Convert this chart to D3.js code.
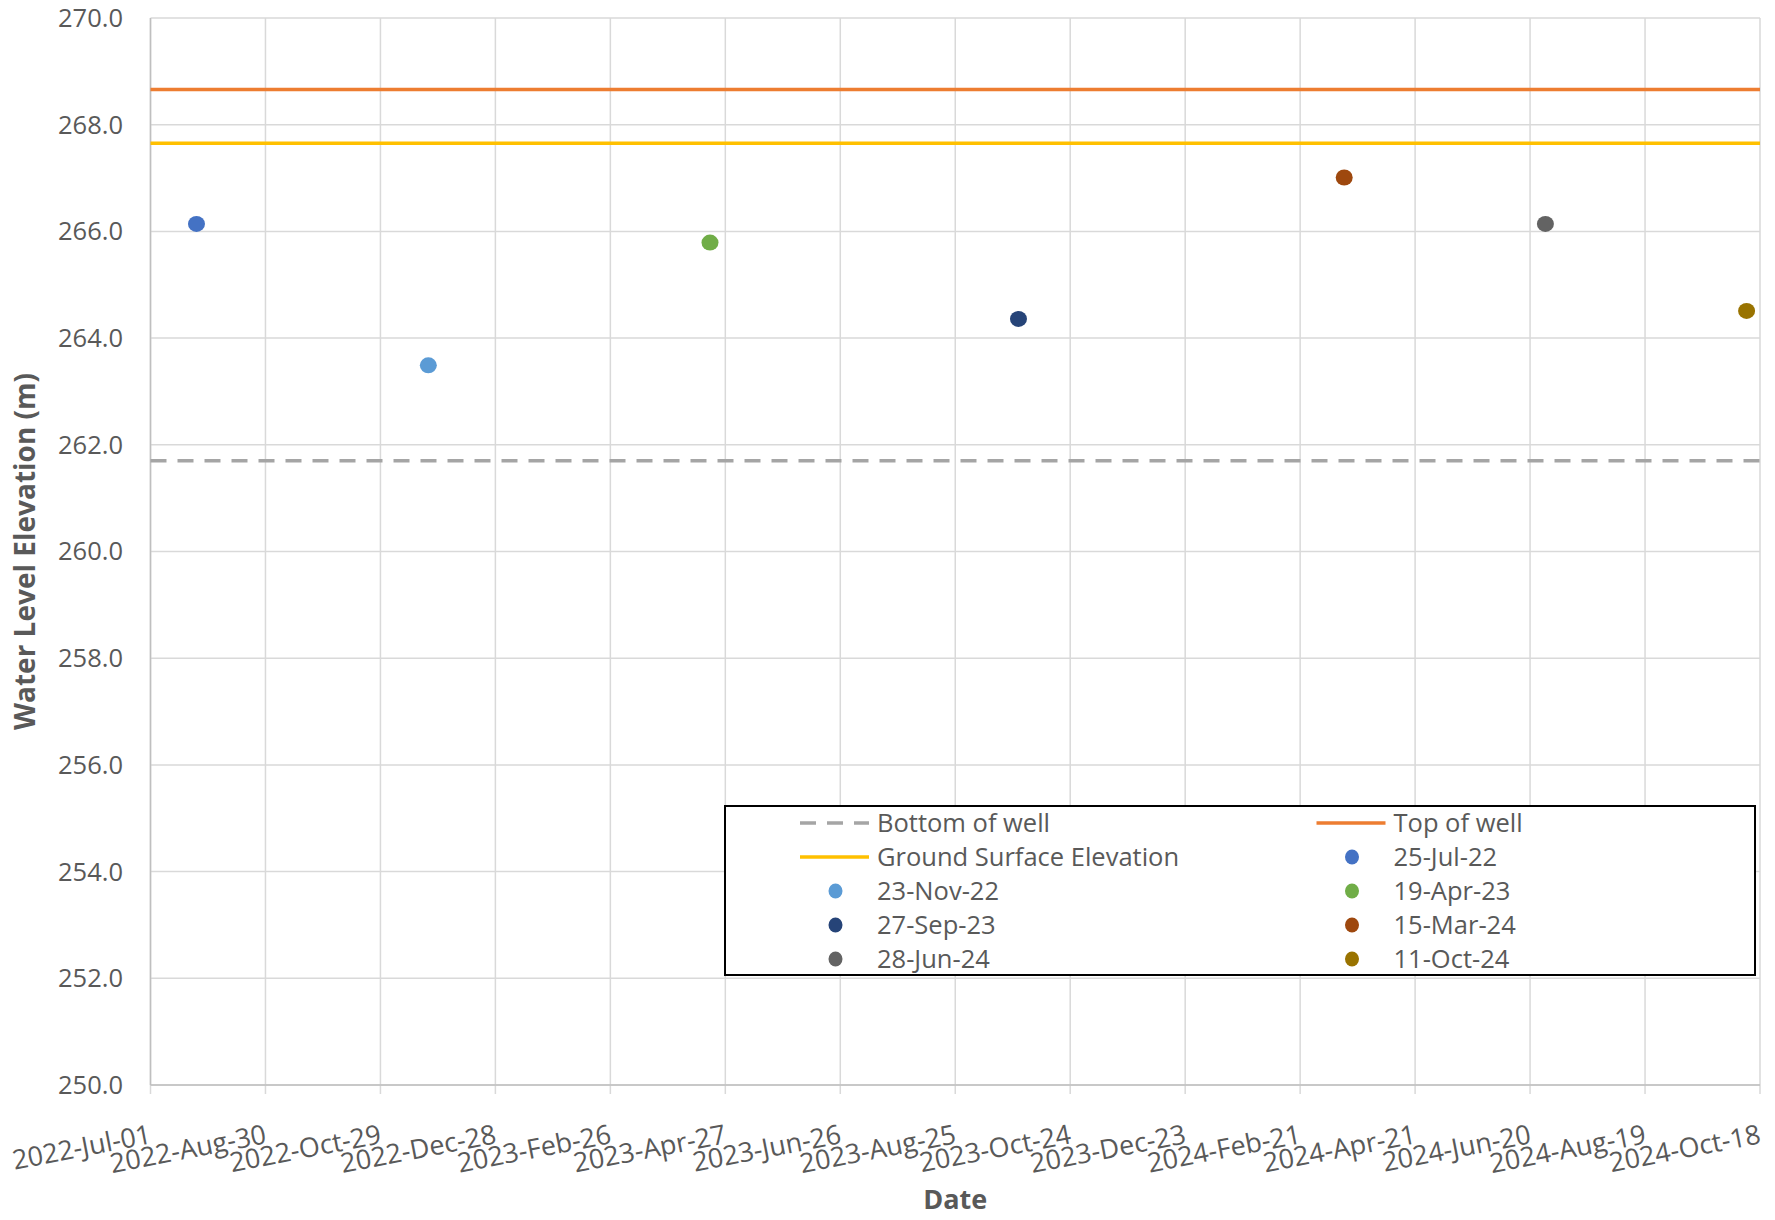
<!DOCTYPE html>
<html>
<head>
<meta charset="utf-8">
<script src="https://cdn.jsdelivr.net/npm/d3@7"></script>
<style>
  html, body { margin: 0; padding: 0; background: #fff; }
  svg { display: block; }
  text { font-family: "Open Sans", "Noto Sans", sans-serif; fill: #595959; }
</style>
</head>
<body>
<div id="chart"></div>
<script>
// ---- data ----
const sampleDates  = ["2022-07-25", "2022-11-23", "2023-04-19", "2023-09-27", "2024-03-15", "2024-06-28", "2024-10-11"];
const sampleLabels = ["25-Jul-22", "23-Nov-22", "19-Apr-23", "27-Sep-23", "15-Mar-24", "28-Jun-24", "11-Oct-24"];
const waterLevels  = [266.14, 263.49, 265.79, 264.36, 267.01, 266.14, 264.51];
const sampleColors = ["#4472C4", "#5B9BD5", "#70AD47", "#264478", "#9E480E", "#636363", "#997300"];

const topOfWell     = 268.66;
const groundSurface = 267.65;
const bottomOfWell  = 261.70;

const xStart = "2022-07-01";
const xEnd   = "2024-10-18";
const xTickStepDays = 60;
const yTicks = [250, 252, 254, 256, 258, 260, 262, 264, 266, 268, 270];

// ---- layout ----
const W = 1775, H = 1220;
const m = { left: 150.5, right: W - 1760, top: 18, bottom: H - 1085 };

const parse = d3.utcParse("%Y-%m-%d");
const fmt = d3.utcFormat("%Y-%b-%d");

const x = d3.scaleUtc().domain([parse(xStart), parse(xEnd)]).range([m.left, W - m.right]);
const y = d3.scaleLinear().domain([250, 270]).range([H - m.bottom, m.top]);

const xTicks = d3.utcDay.every(1).range(parse(xStart), d3.utcDay.offset(parse(xEnd), 1))
  .filter((d, i) => i % xTickStepDays === 0);

const svg = d3.select("#chart").append("svg").attr("width", W).attr("height", H);

const gridColor = "#D9D9D9";

// horizontal gridlines
svg.append("g").selectAll("line").data(yTicks).join("line")
  .attr("x1", m.left).attr("x2", W - m.right)
  .attr("y1", d => y(d)).attr("y2", d => y(d))
  .attr("stroke", gridColor).attr("stroke-width", 1.5);

// vertical gridlines + tick marks
svg.append("g").selectAll("line").data(xTicks).join("line")
  .attr("x1", d => x(d)).attr("x2", d => x(d))
  .attr("y1", m.top).attr("y2", H - m.bottom + 9)
  .attr("stroke", gridColor).attr("stroke-width", 1.5);

// axis lines
svg.append("line").attr("x1", m.left).attr("x2", m.left).attr("y1", m.top).attr("y2", H - m.bottom)
  .attr("stroke", "#BFBFBF").attr("stroke-width", 1.5);
svg.append("line").attr("x1", m.left).attr("x2", W - m.right).attr("y1", H - m.bottom).attr("y2", H - m.bottom)
  .attr("stroke", "#BFBFBF").attr("stroke-width", 1.5);

// y tick labels
svg.append("g").selectAll("text").data(yTicks).join("text")
  .attr("x", 123).attr("y", d => y(d)).attr("dy", "0.35em")
  .attr("text-anchor", "end").attr("font-size", 25.5)
  .text(d => d.toFixed(1));

// x tick labels (rotated)
svg.append("g").selectAll("text").data(xTicks).join("text")
  .attr("transform", d => `translate(${x(d) + 2},${H - m.bottom + 58}) rotate(-11)`)
  .attr("text-anchor", "end").attr("font-size", 27)
  .text(d => fmt(d));

// axis titles
svg.append("text")
  .attr("transform", `translate(35,${(m.top + H - m.bottom) / 2}) rotate(-90)`)
  .attr("text-anchor", "middle").attr("font-size", 28).attr("font-weight", "bold")
  .text("Water Level Elevation (m)");
svg.append("text")
  .attr("x", (m.left + W - m.right) / 2).attr("y", 1209)
  .attr("text-anchor", "middle").attr("font-size", 27).attr("font-weight", "bold")
  .text("Date");

// reference lines
const xr = x.range();
const refLines = [
  { name: "Bottom of well", value: bottomOfWell, color: "#A5A5A5", dash: "16,11", w: 3.5 },
  { name: "Top of well", value: topOfWell, color: "#ED7D31", dash: null, w: 3.5 },
  { name: "Ground Surface Elevation", value: groundSurface, color: "#FFC000", dash: null, w: 3.5 }
];
svg.append("g").selectAll("line").data(refLines).join("line")
  .attr("x1", xr[0]).attr("x2", xr[1])
  .attr("y1", d => y(d.value)).attr("y2", d => y(d.value))
  .attr("stroke", d => d.color).attr("stroke-width", d => d.w)
  .attr("stroke-dasharray", d => d.dash);

// points
const pts = sampleDates.map((d, i) => ({ date: parse(d), v: waterLevels[i], c: sampleColors[i], label: sampleLabels[i] }));
svg.append("g").selectAll("ellipse").data(pts).join("ellipse")
  .attr("cx", d => x(d.date)).attr("cy", d => y(d.v))
  .attr("rx", 8.5).attr("ry", 8)
  .attr("fill", d => d.c);

// legend
const lg = svg.append("g");
lg.append("rect").attr("x", 725).attr("y", 806).attr("width", 1030).attr("height", 169)
  .attr("fill", "#fff").attr("stroke", "#000").attr("stroke-width", 2);

const legendItems = [
  { type: "line", ...refLines[0] },
  { type: "line", ...refLines[1] },
  { type: "line", ...refLines[2] },
  ...pts.map(p => ({ type: "dot", name: p.label, color: p.c }))
];
const colX = [800, 1316.5];
const rowY0 = 823, rowStep = 34;
legendItems.forEach((it, i) => {
  const cx = colX[i % 2];
  const cy = rowY0 + Math.floor(i / 2) * rowStep;
  if (it.type === "line") {
    lg.append("line").attr("x1", cx).attr("x2", cx + 69).attr("y1", cy).attr("y2", cy)
      .attr("stroke", it.color).attr("stroke-width", it.w)
      .attr("stroke-dasharray", it.dash);
  } else {
    lg.append("ellipse").attr("cx", cx + 35.5).attr("cy", cy).attr("rx", 7).attr("ry", 7.5)
      .attr("fill", it.color);
  }
  lg.append("text").attr("x", cx + 77).attr("y", cy).attr("dy", "0.35em")
    .attr("font-size", 25.5).text(it.name);
});
</script>
</body>
</html>
